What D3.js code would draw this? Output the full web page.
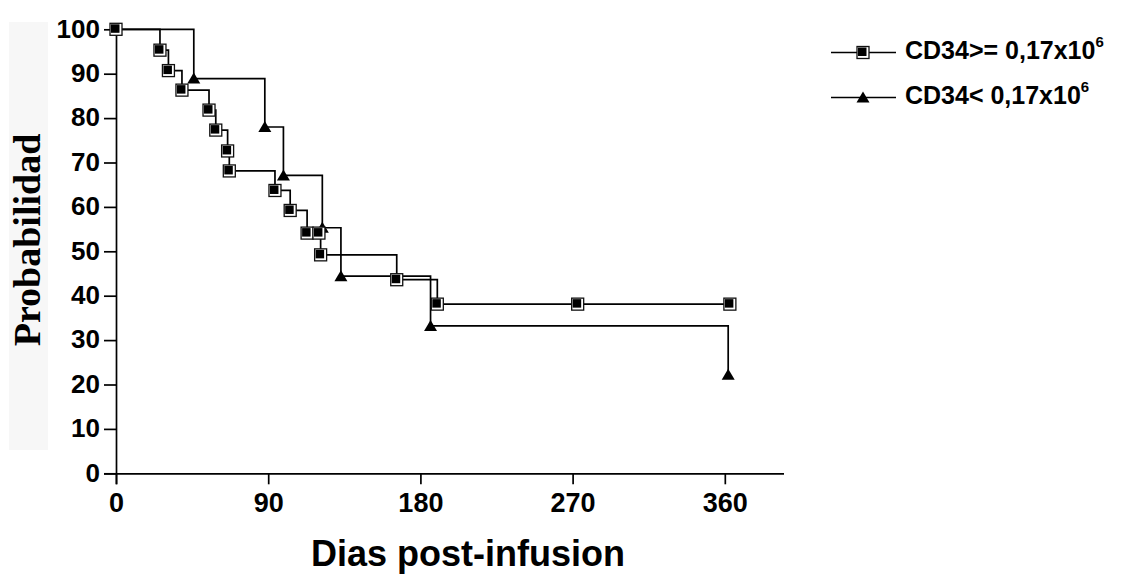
<!DOCTYPE html>
<html lang="es">
<head>
<meta charset="UTF-8" />
<title>Probabilidad vs Dias post-infusion</title>
<script src="https://d3js.org/d3.v7.min.js"></script>
<style>
  body { margin: 0; background: #fff; }
  text { font-family: "Liberation Sans", Arial, sans-serif; font-weight: bold; fill: #000; }
</style>
</head>
<body>
<svg width="1121" height="577"></svg>
<script>
// Kaplan-Meier style data
const highDays = [0, 26, 31, 39, 55, 59, 66, 67, 94, 103, 113, 120, 121, 166, 190, 273, 363];
const highProb = [100, 95.3, 90.7, 86.3, 81.8, 77.3, 72.6, 68.1, 63.7, 59.2, 54.1, 54.1, 49.2, 43.6, 38.1, 38.1, 38.1];
const lowDays = [0, 46, 88, 99, 122, 133, 186, 362];
const lowProb = [100, 88.9, 78, 67.1, 55.3, 44.4, 33.2, 22.2];
const xTicks = [0, 90, 180, 270, 360];
const yTicks = [0, 10, 20, 30, 40, 50, 60, 70, 80, 90, 100];
const seriesNames = ['CD34>= 0,17x10', 'CD34< 0,17x10'];

const svg = d3.select('svg');

const x = d3.scaleLinear().domain([0, 395]).range([116, 784]);
const y = d3.scaleLinear().domain([0, 100]).range([473.3, 29.3]);

// y title with its light grey box
svg.append('rect').attr('x', 9).attr('y', 22).attr('width', 39).attr('height', 428).attr('fill', '#f7f7f7');
svg.append('text')
  .attr('transform', 'translate(40,240) rotate(-90)')
  .attr('text-anchor', 'middle')
  .style('font-family', '"Liberation Serif", "Times New Roman", serif')
  .style('font-size', '38px')
  .text('Probabilidad');

// axes
const xAxis = svg.append('g')
  .attr('transform', `translate(0,${y(0)})`)
  .call(d3.axisBottom(x).tickValues(xTicks).tickSize(11).tickSizeOuter(0).tickPadding(8));
const yAxis = svg.append('g')
  .attr('transform', `translate(${x(0)},0)`)
  .call(d3.axisLeft(y).tickValues(yTicks).tickSize(12).tickSizeOuter(0).tickPadding(4));

[xAxis, yAxis].forEach(g => {
  g.selectAll('path, line').attr('stroke', '#000').attr('stroke-width', 1.7);
  g.selectAll('text').attr('fill', '#000');
});
xAxis.selectAll('text').style('font-size', '27px').attr('y', 38.5).attr('dy', 0);
yAxis.selectAll('text').style('font-size', '26px').attr('dy', '0.3em');
xAxis.select('.domain').attr('d', `M${x(0) - 12},0.5H${x(395)}`);
yAxis.select('.domain').attr('d', `M0.5,${y(100)}V${y(0) + 11}`);

svg.append('text')
  .attr('x', 468).attr('y', 566)
  .attr('text-anchor', 'middle')
  .style('font-size', '36px')
  .text('Dias post-infusion');

// step curves
const stepLine = d3.line()
  .x(d => x(d[0]))
  .y(d => y(d[1]))
  .curve(d3.curveStepAfter);

const highPts = highDays.map((d, i) => [d, highProb[i]]);
const lowPts = lowDays.map((d, i) => [d, lowProb[i]]);

svg.append('path').datum(lowPts).attr('d', stepLine)
  .attr('fill', 'none').attr('stroke', '#000').attr('stroke-width', 1.7);
svg.append('path').datum(highPts).attr('d', stepLine)
  .attr('fill', 'none').attr('stroke', '#000').attr('stroke-width', 1.7);

function drawSquare(g) {
  g.append('rect').attr('x', -6).attr('y', -6).attr('width', 12).attr('height', 12)
    .attr('fill', '#fff').attr('stroke', '#111').attr('stroke-width', 1.3);
  g.append('rect').attr('x', -5).attr('y', -5).attr('width', 8.5).attr('height', 8.5)
    .attr('fill', '#000');
}
function drawTriangle(g) {
  g.append('path').attr('d', 'M0,-6L6.5,5L-6.5,5Z').attr('fill', '#000');
}

svg.selectAll('.tri').data(lowPts).enter().append('g').attr('class', 'tri')
  .attr('transform', d => `translate(${x(d[0])},${y(d[1])})`)
  .each(function () { drawTriangle(d3.select(this)); });
svg.selectAll('.sq').data(highPts).enter().append('g').attr('class', 'sq')
  .attr('transform', d => `translate(${x(d[0])},${y(d[1])})`)
  .each(function () { drawSquare(d3.select(this)); });

// legend
const legend = svg.append('g');
seriesNames.forEach((name, i) => {
  const ly = 52.5 + i * 45;
  legend.append('line').attr('x1', 831).attr('x2', 896).attr('y1', ly).attr('y2', ly)
    .attr('stroke', '#000').attr('stroke-width', 1.7);
  const m = legend.append('g').attr('transform', `translate(863,${ly})`);
  if (i === 0) drawSquare(m); else drawTriangle(m);
  const t = legend.append('text').attr('x', 905).attr('y', ly + 6).style('font-size', '25px');
  t.append('tspan').text(name);
  t.append('tspan').attr('dy', -12).style('font-size', '15px').text('6');
});
</script>
</body>
</html>
